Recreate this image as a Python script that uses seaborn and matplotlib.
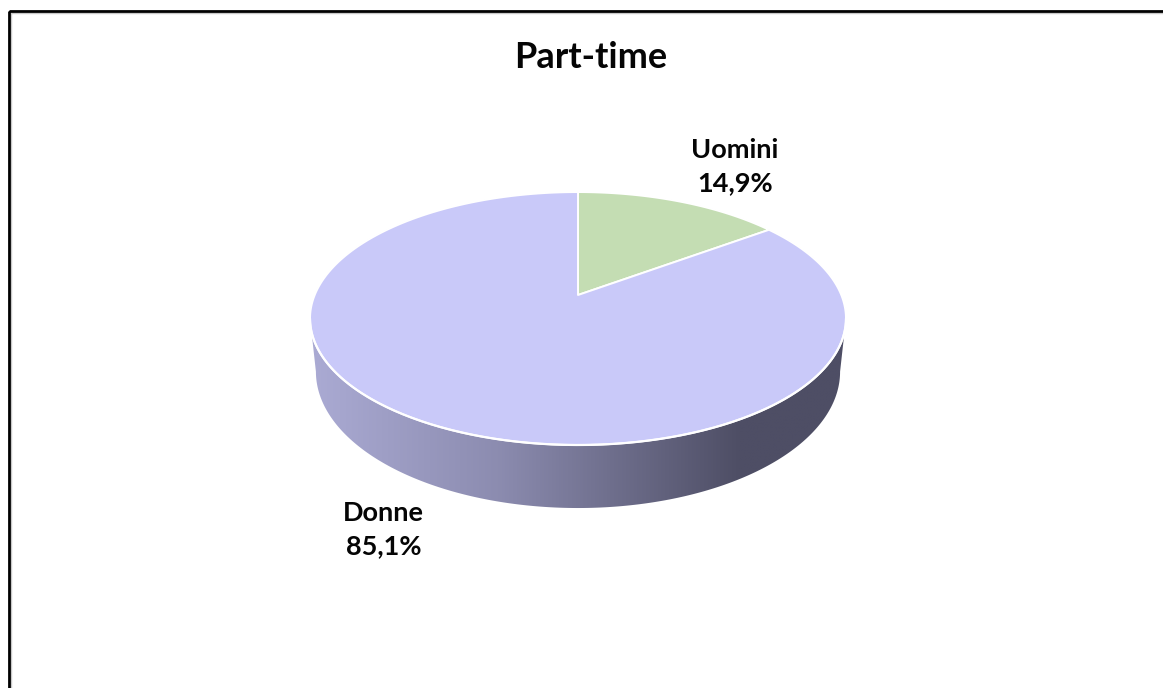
import numpy as np
import matplotlib
matplotlib.use("Agg")
import matplotlib.pyplot as plt
from matplotlib.patches import Polygon, Rectangle
from matplotlib.colors import LinearSegmentedColormap
import seaborn as sns

# ---------------- data ----------------
categories = ["Uomini", "Donne"]
values = [14.9, 85.1]
title = "Part-time"

# ---------------- style ----------------
sns.set_theme(style="white")
plt.rcParams["font.family"] = ["Lato", "DejaVu Sans"]
top_colors = sns.color_palette(["#C4DDB3", "#C9C9F9"])
side_light, side_dark = "#ABABD4", "#4E4E65"

W, H = 1163, 688
fig = plt.figure(figsize=(W / 100, H / 100), dpi=100)
ax = fig.add_axes([0, 0, 1, 1])

# perspective pie geometry (pixel space)
cx, cy = 578.0, 295.0
A, B = 263.3, 122.1
k = 0.186
D = 51.3


def proj(theta, drop=0.0):
    u = np.sin(theta)
    v = np.cos(theta)
    w = 1 + k * v
    s = 1 - 0.022 * drop
    x = cx + A * u * s / w
    y = cy - B * v / w + D * drop / w
    return x, y


# side (visible front band)
tR = np.arccos(-k)
tL = 2 * np.pi - tR
ts = np.linspace(tR, tL, 300)
xt, yt = proj(ts, 0)
xb, yb = proj(ts[::-1], 1)
side_xy = np.column_stack([np.concatenate([xt, xb]), np.concatenate([yt, yb])])
side_patch = Polygon(side_xy, closed=True, facecolor="none", edgecolor="none")
ax.add_patch(side_patch)
cmap = LinearSegmentedColormap.from_list(
    "side", [(0, side_light), (0.35, "#8C8CB0"), (0.8, side_dark), (1, side_dark)])
grad = np.linspace(0, 1, 512).reshape(1, -1)
x0, x1 = xt.min() - 2, xt.max() + 2
im = ax.imshow(grad, cmap=cmap, extent=(x0, x1, yb.max() + 2, yt.min() - 2),
               aspect="auto", interpolation="bilinear", zorder=1)
im.set_clip_path(side_patch)

# top wedges
fracs = np.array(values) / np.sum(values)
starts = np.concatenate([[0], np.cumsum(fracs)[:-1]]) * 2 * np.pi
ends = np.cumsum(fracs) * 2 * np.pi
for i, (a0, a1) in enumerate(zip(starts, ends)):
    th = np.linspace(a0, a1, 300)
    ex, ey = proj(th, 0)
    pts = np.column_stack([np.concatenate([[cx], ex]), np.concatenate([[cy], ey])])
    ax.add_patch(Polygon(pts, closed=True, facecolor=top_colors[i],
                         edgecolor="white", linewidth=1.4, zorder=2,
                         joinstyle="round"))

# white front rim between top and side
ax.plot(xt, yt, color="white", lw=1.6, zorder=3, solid_capstyle="round")

# labels
for i, (name, val) in enumerate(zip(categories, values)):
    mid = (starts[i] + ends[i]) / 2
    u, v = np.sin(mid), np.cos(mid)
    drop = 1.0 if v < -k else 0.0
    axp, ayp = proj(mid, drop)
    lx = axp + np.sign(u) * 55
    ly = ayp + (-35 if v > 0 else 42)
    txt = f"{name}\n{val:.1f}%".replace(".", ",")
    ax.text(lx, ly, txt, ha="center", va="center", fontsize=19.5,
            fontweight="bold", color="#050505", linespacing=1.45, zorder=5)

ax.text(591, 68, title, ha="center", va="baseline", fontsize=26,
        fontweight="bold", color="#050505", zorder=5)

# chart frame (cut off at the right and bottom)
ax.add_patch(Rectangle((10.5, 12.5), 1200, 700, facecolor="none",
                       edgecolor="#C8C8C8", lw=1.0, zorder=6))
ax.add_patch(Rectangle((8.5, 10.5), 1200, 700, facecolor="none",
                       edgecolor="black", lw=2.0, zorder=7))

ax.set_xlim(0, W)
ax.set_ylim(H, 0)
ax.axis("off")
fig.savefig("out.png", dpi=100, facecolor="white")
